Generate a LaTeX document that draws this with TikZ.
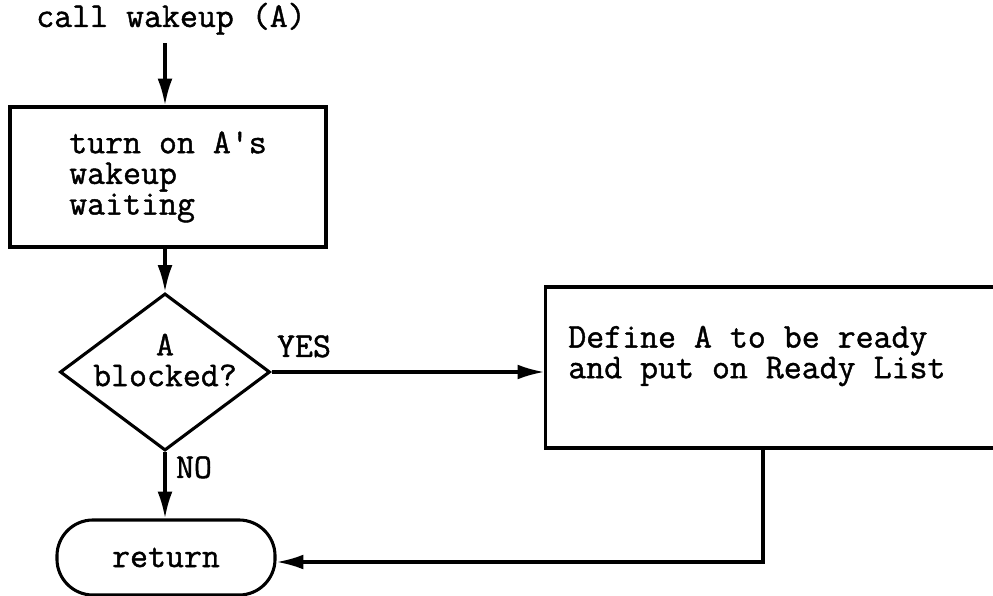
\documentclass[tikz,border=0pt]{standalone}
\usepackage{fontspec}
\newfontfamily\courfont{Latin Modern Mono}[FakeBold=1.2]
\usetikzlibrary{shapes.geometric,arrows.meta}
\begin{document}
\begin{tikzpicture}[x=0.025cm,y=-0.025cm,
  every node/.style={font=\courfont\fontsize{24.8}{21.8}\selectfont, inner sep=0pt},
  ln/.style={line width=2.2pt},
  arr/.style={ln, -{Latex[length=19pt,width=10.5pt]}},
  box/.style={draw, ln, rectangle},
]
\useasboundingbox (0,0) rectangle (993,596);
\clip (0,0) rectangle (993,596);
% nodes
\node[anchor=base, inner sep=0.2cm] (call) at (171,27) {call wakeup (A)};
\node[box, minimum width=7.9cm, minimum height=3.5cm, align=left] (box1) at (168,177)
  {turn on A\textquotesingle s\\wakeup\\waiting};
\node[draw, ln, diamond, minimum width=5.25cm, minimum height=3.925cm] (dec) at (165,372) {};
\node[align=center] (dectext) at (165,360) {A\\blocked?};
\node[box, minimum width=12.6cm, minimum height=4.025cm] (rbox) at (798,367.5) {};
\node[anchor=west, align=left] (rtext) at (568,356) {Define A to be ready\\and put on Ready List};
\node[draw, ln, rectangle, rounded corners=0.9cm, minimum width=5.45cm, minimum height=1.875cm] (ret) at (166,557.5) {return};
\node[anchor=base] (yes) at (304,357) {YES};
\node[anchor=base] (no) at (194,478) {NO};
\coordinate (turn) at (763,562);
% connectors
\draw[arr] (call.south -| dec.north) -- (box1.north -| dec.north);
\draw[arr] (box1.south -| dec.north) -- (dec.north);
\draw[arr] (dec.east) -- (dec.east -| rbox.west);
\draw[arr] (dec.south) -- (ret.north -| dec.south);
\draw[arr] (rbox.south -| turn) -- (turn) -- (turn -| ret.east);
\end{tikzpicture}
\end{document}
